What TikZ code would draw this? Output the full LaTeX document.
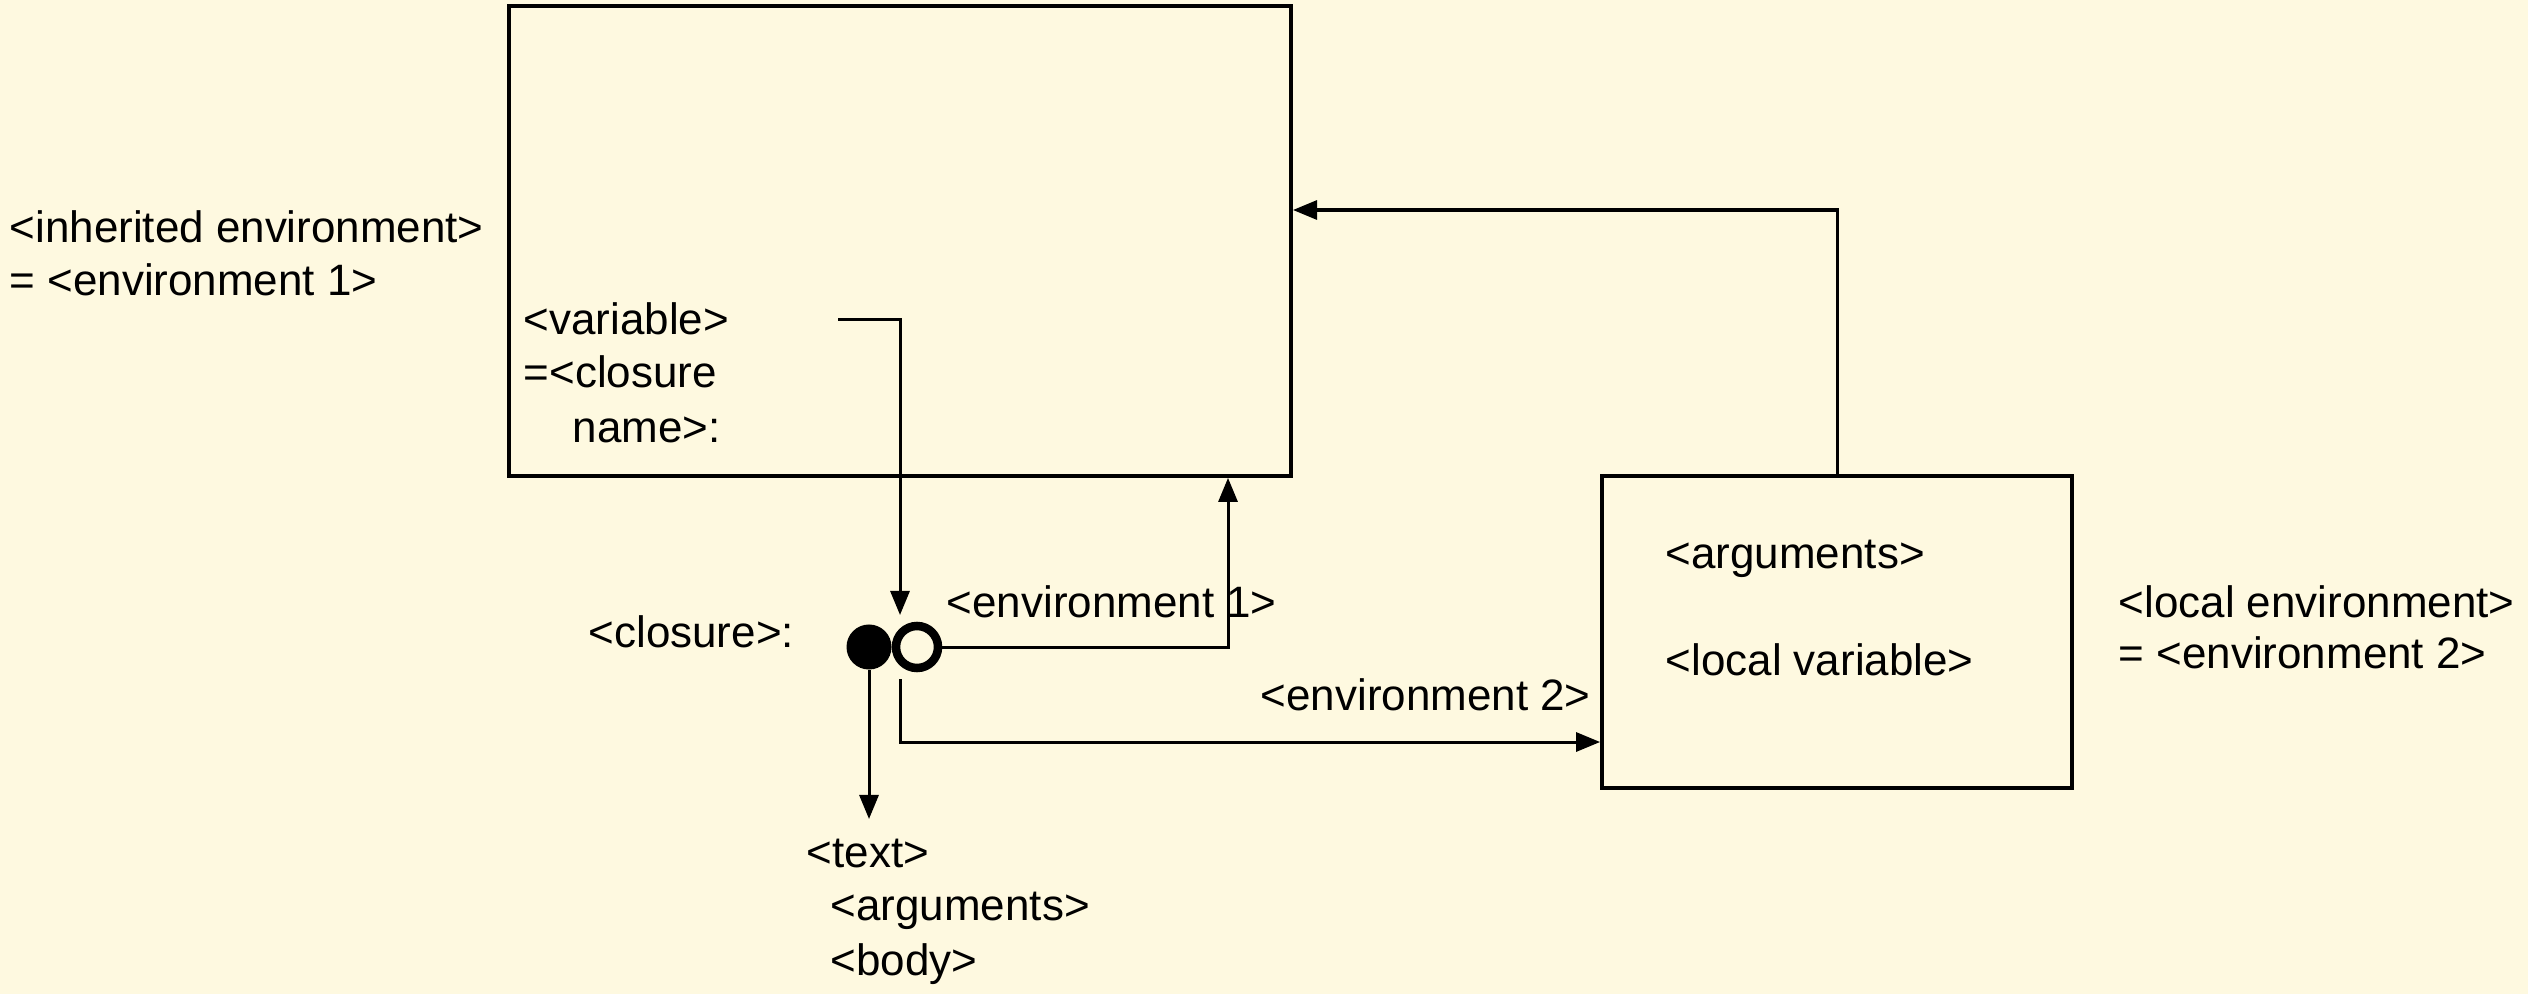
\documentclass[tikz,border=0pt]{standalone}
\usepackage{fontspec}
\setmainfont{Liberation Sans}
\usetikzlibrary{arrows.meta}
\definecolor{bg}{HTML}{FEF9E0}
\tikzset{
  lbl/.style={anchor=base west, inner sep=0pt, font=\fontsize{12.5}{15}\selectfont},
  boxnode/.style={draw, line width=0.035cm, rectangle, inner sep=0pt},
  arr/.style={line width=0.03cm, -{Triangle[length=0.24cm,width=0.19cm]}},
}
\begin{document}
\begin{tikzpicture}[x=0.01cm,y=-0.01cm]
\fill[bg] (0,0) rectangle (2528,994);
\useasboundingbox (0,0) rectangle (2528,994);
% boxes
\node[boxnode, minimum width=7.82cm, minimum height=4.70cm] (bigbox) at (900,241) {};
\node[boxnode, minimum width=4.70cm, minimum height=3.12cm] (rbox) at (1837,632) {};
% closure dots
\node[circle, fill=black, inner sep=0pt, minimum size=0.45cm] (dot) at (869,647) {};
\node[circle, draw=black, fill=bg, line width=0.085cm, inner sep=0pt, minimum size=0.42cm] (ring) at (917,647) {};
% helper coordinates
\coordinate (vstart) at (838,319);
\coordinate (tipA) at (900,615);
\coordinate (c1) at (1228,0);
\coordinate (e2s) at (900,679);
\coordinate (e2y) at (0,742);
\coordinate (tipT) at (0,819);
\coordinate (r) at (0,210);
% connectors
\draw[arr] (vstart) -| (tipA);
\draw[arr] (ring.east) -| (c1 |- bigbox.south);
\draw[arr] (e2s) |- (rbox.west |- e2y);
\draw[arr] (dot.south) -- (dot.south |- tipT);
\draw[arr] (rbox.north) |- (bigbox.east |- r);
% labels
\node[lbl] (inh1) at (9,242) {<inherited environment>};
\node[lbl] (inh2) at (9,295) {= <environment 1>};
\node[lbl] (var1) at (523,334) {<variable>};
\node[lbl] (var2) at (523,387) {=<closure};
\node[lbl] (var3) at (572,442) {name>:};
\node[lbl] (clos) at (588,647) {<closure>:};
\node[lbl] (env1) at (946,617) {<environment 1>};
\node[lbl] (env2) at (1260,710) {<environment 2>};
\node[lbl] (args) at (1665,568) {<arguments>};
\node[lbl] (lv) at (1665,675) {<local variable>};
\node[lbl] (le1) at (2118,617) {<local environment>};
\node[lbl] (le2) at (2118,668) {= <environment 2>};
\node[lbl] (t1) at (806,867) {<text>};
\node[lbl] (t2) at (830,920) {<arguments>};
\node[lbl] (t3) at (830,975) {<body>};
\end{tikzpicture}
\end{document}
